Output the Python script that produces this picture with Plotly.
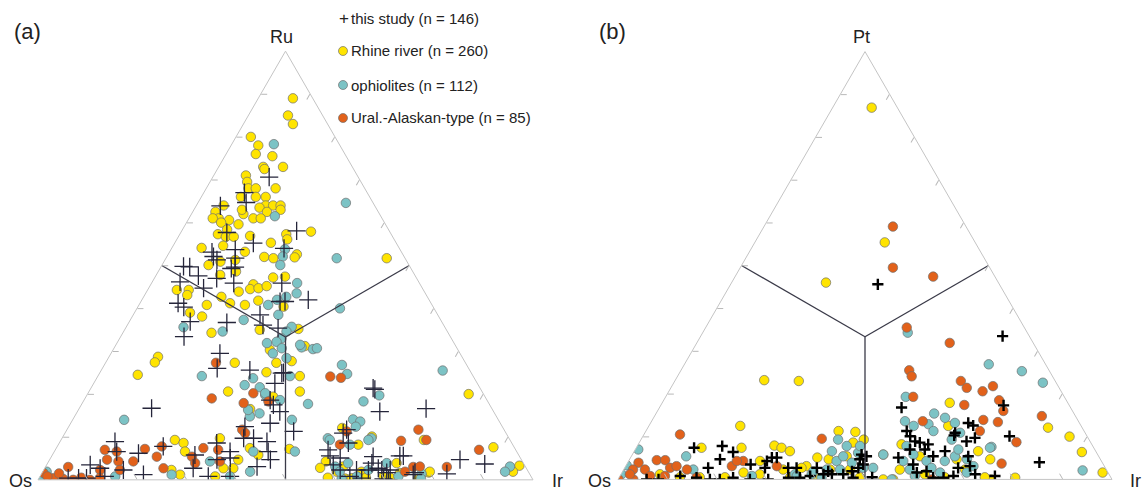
import plotly.graph_objects as go

W, H = 1142, 493

# ---------------- data: panel (a) Os-Ir-Ru, values as (Ru %, Ir %); Os = 100 - Ru - Ir
a_study = [(70.6,11.4),(67,8.2),(64.7,9.7),(63.9,4.9),(57.7,9.3),(55.2,15.9),(58.1,23.2),(54,22.7),(53.7,13),(53.1,8.6),
           (51.3,10.5),(51.7,14),(49.8,4.5),(49.7,5.8),(49.6,15),(47.6,8.6),(46.2,5.6),(47,12.6),(45.9,16.6),(49.3,14.4),
           (52.1,9.4),(41.2,7.7),(40.3,9.3),(36.9,12.3),(33.4,12.8),(44.7,11.1),(36.7,19.8),(38.5,25.6),(36.1,27.4),(35.4,30.8),
           (41.6,28.1),(41.6,29.1),(45.9,26.3),(42,33.6),(29.5,22),(26,23.2),(25.6,30),(22.5,36.6),(24.9,36.8),(18.6,37.6),
           (16.7,14.6),(21.4,57),(8.9,11.1),(6.6,12.6),(3.5,8.8),(2.7,11.2),(0.8,13.1),(0.4,5.9),(0.4,8),(0.4,9.6),
           (2.3,16.1),(6.2,17.2),(1.2,20.7),(7.8,21.4),(5.8,28.8),(2.7,30),(8.6,31.8),(4.7,33.8),(0.8,34),(6.6,35.5),
           (5.1,36.3),(0.8,38.4),(12.4,35.6),(9.7,36.7),(9.7,38.7),(8.9,41.8),(6.6,43.2),(3.1,42.7),(4.7,44.6),(17.5,38.8),
           (13.2,40.3),(15.9,40.9),(11.3,46),(25,37.1),(21.1,57.5),(15.9,61.1),(16.6,70.1),(4.7,82.9),(3.7,88.4),(1.4,81.9),
           (5.6,70.3),(5.6,71),(11.7,56.5),(7,55.1),(5.6,56.2),(2.3,59.9),(2.3,63.2),(2.3,65.6),(1.7,69.6),(1.7,75.3),
           (5.4,65),(2.7,67.4),(0.8,62.6),(0.2,69.7),(5.1,58.5),(10.9,56.2),(8.6,58.4),(3.5,57.9),(3.9,65.5),(2.3,68.3),
           (0,70.8),(1.2,75.2),(0.4,65.2),(2.3,70)]
a_rhine = [(89,7),(85,8),(83,10),(80,3),(78,5.5),(76,6),(75.5,9.6),(73,9),(72.5,9.5),(73,13),(71,6.5),(69.5,7.5),
           (68,8.5),(68,10),(66,11),(66,8),(68,14),(66,13),(64,14),(63.5,13),(64,15.5),(64,17),(62.5,15),(63,17.5),
           (61,13),(61,14.5),(62,10.5),(63,9.7),(64,5.5),(62.5,4.6),(61,6),(61,4.8),(60.6,8.3),(60,7),(59.6,10.7),
           (58.4,9),(57.3,7.7),(56.7,9.6),(56.7,11.2),(56.9,14.4),(55.3,19.4),(57.3,21.5),(56.1,22.3),(57.9,26.2),
           (54.1,6),(54.6,10.1),(53.2,15.2),(52,19.7),(52.6,26),(50.1,9.4),(50.9,11.4),(51.3,14.2),(51.7,21.7),
           (51.9,25.9),(51.7,44.6),(48.6,15.7),(47.8,12.9),(47.2,23.9),(47.4,26.2),(44.3,5.9),(44.3,8.3),(43.1,8.6),
           (43.9,18.6),(45.6,20.7),(44.5,20.6),(44.7,22.2),(45.2,23.6),(42.7,15.7),(41.2,18.2),(40.8,13.7),(40.8,21.4),
           (41.8,23.6),(39,11.2),(38.1,14.1),(40.4,29.4),(35,27.3),(34.3,17.9),(35.2,35),(30.3,31.7),(31.2,38.3),
           (28.7,9.9),(27.4,9.9),(27.3,26.1),(27.3,34.5),(25.1,33.6),(24.2,40.8),(24.5,7.9),(20.6,28.1),(20.6,42.6),
           (16.5,34.6),(20,77),(7.6,88.2),(3.3,95.6),(1.9,95),(9.3,73.3),(27.7,37.4),(7.2,47.2),(1.7,78.1),(0.3,76.7),
           (12.1,55.4),(8.2,60.6),(4.3,56),(1.9,59.4),(0.3,61.9),(0.4,63.2),(1.9,64.4),(10.1,62.4),(0.8,69.4),(3.9,70.5),
           (1.6,72.3),(1.9,78.2),(3.1,60.1),(2.8,55.6),(0.5,58.3),(0.5,66),(0.5,70.9),(9.3,23),(8.6,25.1),(6.6,26.4),
           (2.3,25.8),(1.2,28.1),(9.7,31.9),(2.7,36.1),(2.7,38.1),(0.8,35.4),(4.7,38.1),(7.4,39.1),(5.8,41.6),(19.4,37.8)]
a_ophio = [(78.3,8.5),(64.6,29.9),(61.5,17.1),(53.8,23),(52.1,23.4),(51.7,34.5),(50.1,23.9),(45.9,29.4),(43.5,30.5),
           (42.7,28.8),(40.8,26.1),(42,27.3),(38.5,29.3),(37.3,22.9),(40,41),(35.7,33.4),(34.6,32.9),(33,32.7),(31.9,30.3),
           (32.2,32.1),(30.7,33.9),(29.5,32.7),(28.4,36),(30.9,37.8),(30.5,40.3),(30.7,41),(26.8,48),(24.7,50.1),(24.2,38.8),
           (23.7,31.6),(22.1,30.7),(21.6,34),(19.8,36),(17.7,45.7),(18.3,56.6),(19.7,59.1),(35.6,11.6),(24.2,21),(34.6,20),
           (14,10.4),(1.9,0.8),(0.5,0.2),(0.8,15.2),(1.2,26.4),(4.3,32.6),(14.8,35.4),(16.3,34.3),(15.5,37),(6.6,40.2),
           (1.9,41.9),(0.8,38.4),(20.2,35.8),(18.6,39.6),(14,44.3),(6.6,48.6),(31.5,37.2),(25.5,69),(14.1,56.6),(13.6,58.3),
           (12.4,58),(9.7,53.7),(9.7,62.5),(3.1,93.8),(1.9,93.4),(8.2,58.9),(0.3,61.2),(0.8,64),(2.3,65.6),(0.8,72.4),
           (1.4,76.8),(3.1,58.5),(9.3,54.3),(9.3,62.1),(3.9,60.7),(3.9,68.5),(1.9,60),(0.3,77.2)]
a_ural = [(19,25.6),(7,10),(4.7,11.6),(2.3,11.4),(6.6,12.6),(4.3,14.1),(2.3,15.4),(3,4.6),(1.6,0.3),(0.4,2.9),
          (0.2,5),(0,7.1),(0,10.5),(0.4,12.3),(4.3,17.1),(7.2,18),(5.4,21.3),(7.8,21.1),(2.7,24),(5.4,28.4),
          (3.9,29.8),(7.4,29.7),(7,32.9),(4.3,34.6),(17.9,32.6),(11.7,35.4),(10.9,36.4),(20.2,33.4),(18.3,37.4),
          (27.3,22.3),(24.1,47),(23.8,49.3),(11.7,71),(9.1,68.8),(9.3,73.8),(7,85.6),(3,81.1),(1.9,73.2),(3,74.3),
          (3.1,75.6),(11.3,56.7),(8.2,56.9),(0.8,1.5),(1.5,3.5),(0.5,8.5)]

# ---------------- data: panel (b) Os-Ir-Pt, values as (Pt %, Ir %); Os = 100 - Pt - Ir
b_study = [(45.6,29.8),(33.5,61.1),(16.8,49),(17.3,69.4),(10.1,74.2),(4,83.3),(0.8,75.9),(13.2,64.3),(12.6,65.6),
           (10.3,62.9),(9.7,67.4),(8.9,66.1),(11.3,52.8),(10.1,54.1),(8.9,55.7),(8.6,56.8),(7,55.6),(7,58.6),(8.2,58.7),
           (5.4,61.1),(3.5,58),(1.6,59.7),(1.9,61.5),(0.4,63.6),(6.6,62.9),(0.4,65.7),(0.8,67.5),(10.9,62.8),(5.4,68.2),
           (3.1,69.7),(1.2,71.7),(2.7,67.5),(5.1,54.2),(5.4,47.6),(4.7,46.6),(7.4,11.7),(7.8,17.2),(6.4,20.1),(4.7,18.3),
           (2.7,16.9),(3.5,25.1),(4.3,28),(5.1,28.6),(5.1,29.6),(2.7,28.4),(2.7,33.1),(2.7,34.8),(2.7,38.9),(0,5.8),
           (0,8.2),(0.8,12.2),(0.4,15.7),(0,18.6),(0,20.6),(0.4,23.1),(0,26.7),(0,30.4),(0.4,34.3),(0.4,36.6),(0.8,38.5),
           (1.2,41),(1.2,42.7),(1.2,45),(1.9,46.4),(2.7,47.3),(3.5,47.9),(5.8,46.4),(0.4,47.4),(1.9,41.6),(0.5,51.2)]
b_rhine = [(86.9,7.9),(55.4,26.3),(46,19.1),(23.2,18),(23,25.1),(12.5,18.5),(7.4,13.2),(7.4,21.3),(7.9,27.7),
           (7.4,29.4),(6.6,31.5),(4.3,26.6),(11.3,39),(11.1,42.5),(5.1,37.8),(4.7,40.3),(5.4,43.6),(9.3,45.1),(3.1,36.6),
           (1.6,24.6),(2.3,32.3),(2.7,35.8),(8.6,43.3),(5.8,50.8),(0,53.7),(0,55.7),(8.2,53.3),(17.9,58.2),(12.5,60.6),
           (6.6,69.6),(4.7,73),(4.7,66.2),(5.4,58.4),(12.1,81),(10,86.4),(6.4,90.7),(1.6,97.3),(0.4,80.2),(0,75.5),
           (0.5,16.3),(0.5,21.4),(1.2,28.1),(0.5,34.6),(0.5,39.6),(2.3,41.8),(2.3,45.8),(0.5,48.7),(2.3,55.9),(1.2,61.5),
           (0.5,65.9),(2.3,69.1),(0.5,74),(1.2,7.9),(0.5,12.3)]
b_ophio = [(34.3,41.5),(26.9,61.6),(25.3,69.1),(22.6,74.7),(19.3,48.6),(2.1,93),(7.6,71.8),(15.4,56.3),(14.4,59),
           (13.2,61.6),(13.6,51.3),(12.5,53.6),(12.9,56.4),(11.3,58.2),(10.9,63.8),(9.3,62.9),(5.8,50.8),(7.8,54.5),
           (5.8,56.9),(4.3,55.6),(2.3,57.9),(0.8,59.7),(4.3,60.3),(2.7,62.1),(1.6,64.4),(4.3,64),(5.4,65.5),(7,65.4),
           (4.7,68.3),(3.1,70.4),(1.6,69.8),(7.4,71.6),(2.7,50.3),(0,55.4),(6.6,40),(4.3,42.1),(5.4,42.9),(2.3,41.1),
           (2.3,43.8),(3.9,45.4),(6.2,45.5),(2.7,48.3),(0.4,41),(1.2,35.2),(1.2,38.6),(7,0.6),(3.3,0.1),(1.2,0.1),
           (5.4,11.1),(2.3,14.1),(0.8,26.7),(9.3,39.9),(7.8,42.4),(7.8,45.1),(0.8,35.8),(1.9,38.6)]
b_ural = [(59.1,26.1),(49.5,30.9),(47.4,40.1),(35.5,40.7),(31.9,51.2),(25.5,46.2),(24.1,47.4),(23,57.9),(21.4,59.9),
          (20.6,63.5),(21.8,65),(19.3,50.1),(17.4,61.4),(18.5,67.9),(16,70),(13.9,67),(13.4,70.2),(13.6,54.9),(14.8,78.4),
          (8.7,76.3),(3.7,75.8),(9.5,36.5),(11.3,67.6),(0,63.5),(3.1,30.6),(4.3,23.2),(10.5,7.3),(4.5,5.6),(4.5,7.3),
          (2.7,9.2),(3.1,10.3),(3.9,2.2),(2.3,1.9),(2.3,4.3),(0.8,6.1),(0,3.1),(0,0.1),(2.3,12.8),(3.1,21.5),(4.3,21.9),
          (0.4,15.7),(0.8,9.1),(1.2,1.8)]

# classification boundaries: centroid to edge midpoints (top, left-base, right-base)
centre = (100/3, 100/3)
edge_mids = [(50, 0), (50, 50), (0, 50)]   # (top %, Ir %)

legend_labels = ["this study (n = 146)", "Rhine river (n = 260)", "ophiolites (n = 112)", "Ural.-Alaskan-type (n = 85)"]

YEL, TEAL, ORA = "#FFE400", "#7CC3C5", "#E2611A"
FONT = "Liberation Sans, Arial, sans-serif"


def comp(pairs):
    top = [p[0] for p in pairs]
    ir = [p[1] for p in pairs]
    os_ = [100 - t - i for t, i in zip(top, ir)]
    return top, os_, ir


fig = go.Figure()

def add_panel(sub, study, rhine, ophio, ural, cross_size, cross_w, cross_col):
    for pairs, col in [(rhine, YEL), (ophio, TEAL), (ural, ORA)]:
        t, o, i = comp(pairs)
        fig.add_trace(go.Scatterternary(a=t, b=o, c=i, subplot=sub, mode="markers", showlegend=False,
                                        marker=dict(size=9.5, color=col, line=dict(color="#707070", width=0.7))))
    t, o, i = comp(study)
    fig.add_trace(go.Scatterternary(a=t, b=o, c=i, subplot=sub, mode="markers", showlegend=False,
                                    marker=dict(symbol="cross-thin", size=cross_size,
                                                line=dict(color=cross_col, width=cross_w))))
    la, lb, lc = [], [], []
    for t_, i_ in edge_mids:
        la += [centre[0], t_, None]
        lc += [centre[1], i_, None]
        lb += [100 - centre[0] - centre[1], 100 - t_ - i_, None]
    fig.add_trace(go.Scatterternary(a=la, b=lb, c=lc, subplot=sub, mode="lines", showlegend=False,
                                    line=dict(color="#3a3a48", width=1.3), hoverinfo="skip"))

add_panel("ternary", a_study, a_rhine, a_ophio, a_ural, 13, 1.3, "#25253a")
add_panel("ternary2", b_study, b_rhine, b_ophio, b_ural, 8, 2.4, "#000000")

ax = dict(showgrid=False, showticklabels=False, ticks="inside", ticklen=6, tickcolor="#b8b8b8",
          linecolor="#c4c4c4", linewidth=1, dtick=10, tick0=0, title=dict(text=""))

def ternary(x0, x1):
    return dict(sum=100, bgcolor="white",
                domain=dict(x=[x0 / W, x1 / W], y=[(H - 480) / H, (H - 51) / H]),
                aaxis=ax, baxis=ax, caxis=ax)

def px(x, y):
    return x / W, 1 - y / H

annos = []
def text(x, y, s, size, xanchor="center"):
    X, Y = px(x, y)
    annos.append(dict(x=X, y=Y, xref="paper", yref="paper", text=s, showarrow=False,
                      xanchor=xanchor, yanchor="middle", font=dict(size=size, color="#222", family=FONT)))

text(27, 31, "(a)", 22)
text(612, 31, "(b)", 22)
text(281, 37, "Ru", 18)
text(20, 481, "Os", 18)
text(557, 481, "Ir", 18)
text(861, 37, "Pt", 18)
text(599, 481, "Os", 18)
text(1135, 481, "Ir", 18)

shapes = []
leg_y = [18, 51, 85, 118]
text(337, leg_y[0], "+", 17, "left")
for k, lab in enumerate(legend_labels):
    text(349, leg_y[k], lab, 15, "left")
for k, col in zip([1, 2, 3], [YEL, TEAL, ORA]):
    x0, y0 = px(338.5, leg_y[k] + 4.5)
    x1, y1 = px(347.5, leg_y[k] - 4.5)
    shapes.append(dict(type="circle", xref="paper", yref="paper", x0=x0, y0=y0, x1=x1, y1=y1,
                       fillcolor=col, line=dict(color="#707070", width=0.7)))

fig.update_layout(width=W, height=H, margin=dict(l=0, r=0, t=0, b=0),
                  paper_bgcolor="white", plot_bgcolor="white",
                  font=dict(family=FONT, color="#222"),
                  ternary=ternary(38, 533), ternary2=ternary(618, 1112),
                  annotations=annos, shapes=shapes, showlegend=False)

fig.write_html("out.html")
